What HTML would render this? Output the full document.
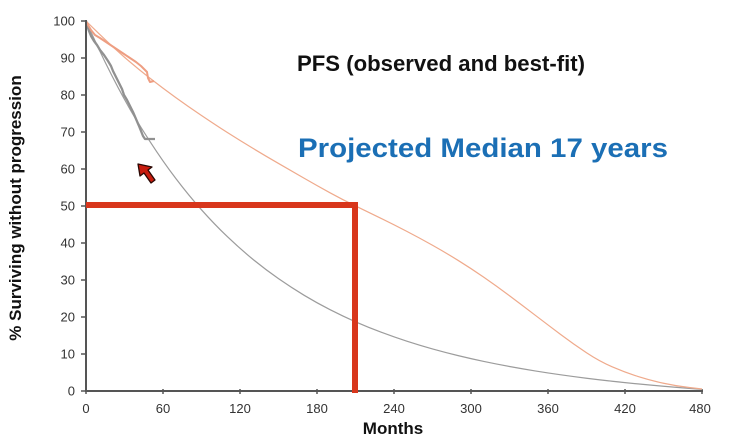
<!DOCTYPE html>
<html>
<head>
<meta charset="utf-8">
<style>
  html,body{margin:0;padding:0;background:#fff;}
  svg{display:block;}
  text{font-family:"Liberation Sans",Arial,sans-serif;}
</style>
</head>
<body>
<svg width="741" height="436" viewBox="0 0 741 436" xmlns="http://www.w3.org/2000/svg">
  <rect width="741" height="436" fill="#ffffff"/>

  <!-- Titles -->
  <text x="297" y="71" font-size="22" font-weight="bold" fill="#111" textLength="288" lengthAdjust="spacingAndGlyphs">PFS (observed and best-fit)</text>
  <text x="298" y="157" font-size="27" font-weight="bold" fill="#1b6fb5" textLength="370" lengthAdjust="spacingAndGlyphs">Projected Median 17 years</text>

  <!-- Y axis label -->
  <text transform="translate(21,208) rotate(-90)" text-anchor="middle" font-size="17" font-weight="bold" fill="#111">% Surviving without progression</text>
  <!-- X axis label -->
  <text x="393" y="434" text-anchor="middle" font-size="17" font-weight="bold" fill="#111">Months</text>

  <!-- Y ticks & labels -->
  <g stroke="#555" stroke-width="1.5">
    <line x1="81" y1="21" x2="86" y2="21"/>
    <line x1="81" y1="58" x2="86" y2="58"/>
    <line x1="81" y1="95" x2="86" y2="95"/>
    <line x1="81" y1="132" x2="86" y2="132"/>
    <line x1="81" y1="169" x2="86" y2="169"/>
    <line x1="81" y1="206" x2="86" y2="206"/>
    <line x1="81" y1="243" x2="86" y2="243"/>
    <line x1="81" y1="280" x2="86" y2="280"/>
    <line x1="81" y1="317" x2="86" y2="317"/>
    <line x1="81" y1="354" x2="86" y2="354"/>
    <line x1="81" y1="391" x2="86" y2="391"/>
  </g>
  <g font-size="13" fill="#333" text-anchor="end">
    <text x="75" y="25.5">100</text>
    <text x="75" y="62.5">90</text>
    <text x="75" y="99.5">80</text>
    <text x="75" y="136.5">70</text>
    <text x="75" y="173.5">60</text>
    <text x="75" y="210.5">50</text>
    <text x="75" y="247.5">40</text>
    <text x="75" y="284.5">30</text>
    <text x="75" y="321.5">20</text>
    <text x="75" y="358.5">10</text>
    <text x="75" y="395.5">0</text>
  </g>

  <!-- X ticks & labels -->
  <g stroke="#555" stroke-width="1.5">
    <line x1="86" y1="389" x2="86" y2="394"/>
    <line x1="163" y1="389" x2="163" y2="394"/>
    <line x1="240" y1="389" x2="240" y2="394"/>
    <line x1="317" y1="389" x2="317" y2="394"/>
    <line x1="394" y1="389" x2="394" y2="394"/>
    <line x1="471" y1="389" x2="471" y2="394"/>
    <line x1="548" y1="389" x2="548" y2="394"/>
    <line x1="625" y1="389" x2="625" y2="394"/>
    <line x1="702" y1="389" x2="702" y2="394"/>
  </g>
  <g font-size="13" fill="#333" text-anchor="middle">
    <text x="86" y="413">0</text>
    <text x="163" y="413">60</text>
    <text x="240" y="413">120</text>
    <text x="317" y="413">180</text>
    <text x="394" y="413">240</text>
    <text x="471" y="413">300</text>
    <text x="548" y="413">360</text>
    <text x="625" y="413">420</text>
    <text x="700" y="413">480</text>
  </g>

  <!-- Gray fitted curve -->
  <path fill="none" stroke="#9c9c9c" stroke-width="1.2" d="M86,21 L92.42,35.17 Q98.83,49.34 105.25,62.42 Q111.67,75.5 118.09,87.58 Q124.5,99.66 130.92,110.82 Q137.33,121.97 150.17,141.79 Q163,161.6 175.84,178.51 Q188.67,195.42 201.5,209.81 Q214.33,224.2 227.17,236.49 Q240,248.77 252.84,259.24 Q265.67,269.71 278.5,278.65 Q291.33,287.58 304.17,295.3 Q317,303.01 329.84,309.58 Q342.67,316.15 355.5,321.78 Q368.33,327.4 381.17,332.21 Q394,337.02 406.84,341.18 Q419.67,345.34 432.5,348.93 Q445.33,352.52 458.17,355.63 Q471,358.74 483.84,361.44 Q496.67,364.14 509.5,366.49 Q522.33,368.84 535.17,370.91 Q548,372.98 560.84,374.8 Q573.67,376.61 586.5,378.22 Q599.33,379.83 612.17,381.24 Q625,382.64 637.84,383.9 Q650.67,385.15 663.5,386.28 Q676.33,387.41 689.17,388.39 L702,389.37"/>

  <!-- Orange fitted curve -->
  <path fill="none" stroke="#efaa8c" stroke-width="1.2" d="M86,21 L98.83,33.58 Q111.67,46.16 124.5,57.26 Q137.33,68.36 150.17,78.35 Q163,88.34 175.83,97.59 Q188.67,106.84 201.5,115.54 Q214.33,124.23 227.17,132.37 Q240,140.51 252.83,148.28 Q265.67,156.05 278.5,163.45 Q291.33,170.85 304.17,178.25 Q317,185.65 329.83,192.68 Q342.67,199.71 355.5,205.93 Q368.33,212.14 381.17,218.43 Q394,224.72 406.83,231.38 Q419.67,238.04 432.5,245.26 Q445.33,252.47 458.17,260.43 Q471,268.38 483.83,277.26 Q496.67,286.14 509.5,295.76 Q522.33,305.38 535.17,315.19 Q548,324.99 560.83,334.61 Q573.67,344.23 586.5,352.74 Q599.33,361.25 612.17,366.8 Q625,372.35 637.83,376.42 Q650.67,380.49 663.5,383.27 Q676.33,386.04 689.17,387.52 L702,389"/>

  <!-- Gray KM observed -->
  <polyline fill="none" stroke="#919191" stroke-width="2.3" stroke-linejoin="round" points="86,21 87,25 89,31 91,36 94,41 97,45 100,50 104,55 108,61 111,66 113,71 116,77 119,83 122,89 124,95 127,100 130,106 133,112 136,119 139,126 141,131 143,136 145,139 155,139"/>

  <!-- Orange KM observed -->
  <polyline fill="none" stroke="#ee9e82" stroke-width="2" stroke-linejoin="round" points="86,21 88,25 91,30 95,35 100,38 106,42 112,46 118,50 124,54 130,58 136,62 141,66 145,70 147,72 148,78 150,82 154,81"/>

  <!-- Axes -->
  <line x1="86" y1="20" x2="86" y2="392" stroke="#555" stroke-width="2"/>
  <line x1="85" y1="391" x2="703" y2="391" stroke="#555" stroke-width="2"/>

  <!-- Red median marker -->
  <line x1="86" y1="205" x2="358" y2="205" stroke="#d8361c" stroke-width="6"/>
  <line x1="355" y1="202" x2="355" y2="393" stroke="#d8361c" stroke-width="6"/>

  <!-- Cursor arrow -->
  <polygon points="138,164 140,176 144,173 151,183 155,180 148,170 152,167" fill="#c81c0e" stroke="#2a0804" stroke-width="1.3" stroke-linejoin="round"/>
</svg>
</body>
</html>
